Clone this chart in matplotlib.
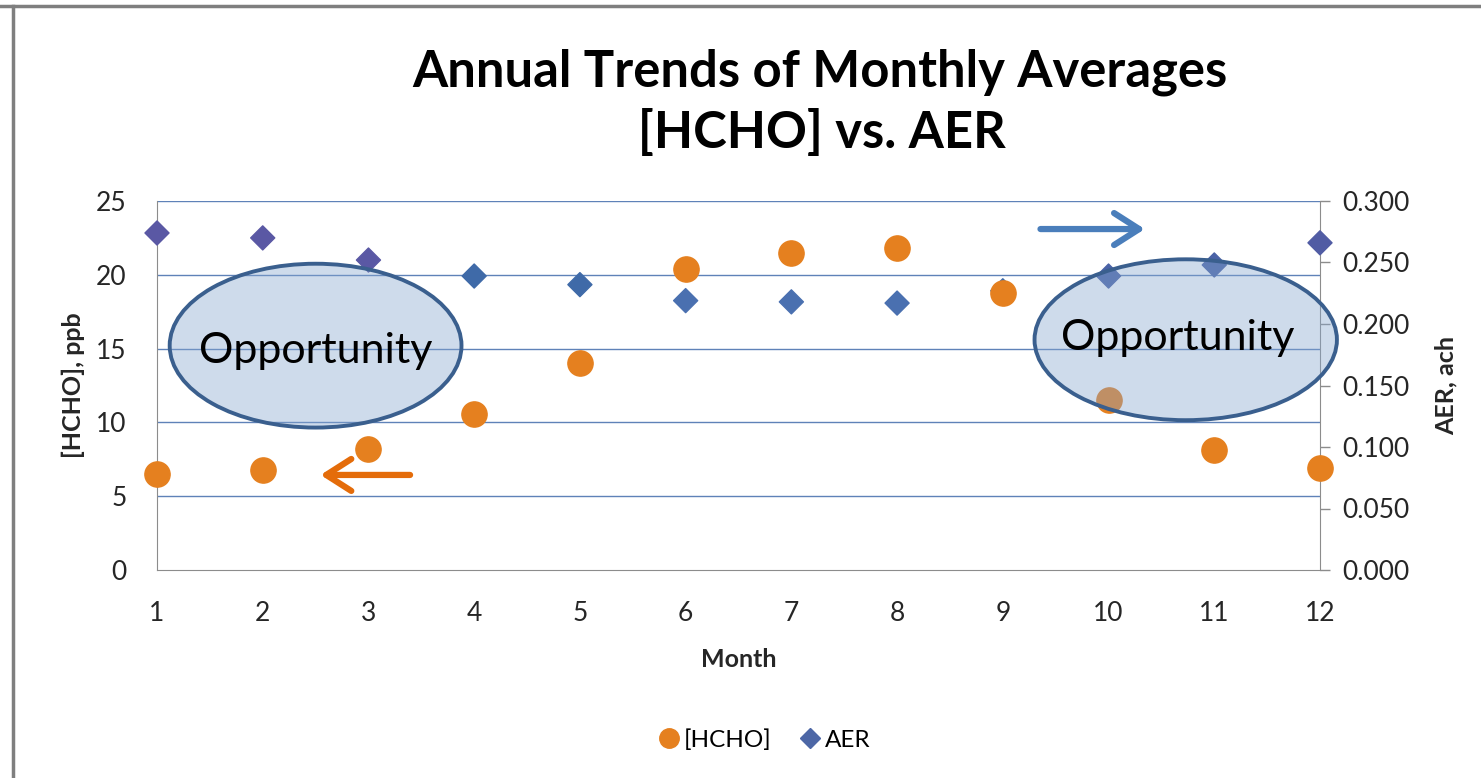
import matplotlib
matplotlib.use("Agg")
import matplotlib.pyplot as plt
from matplotlib.patches import Ellipse
from matplotlib.lines import Line2D

months = [1, 2, 3, 4, 5, 6, 7, 8, 9, 10, 11, 12]
hcho = [6.5, 6.8, 8.2, 10.6, 14.0, 20.4, 21.5, 21.8, 18.8, 11.5, 8.1, 6.9]
aer = [0.274, 0.270, 0.252, 0.239, 0.232, 0.219, 0.218, 0.217, 0.227, 0.239, 0.248, 0.266]
left_ticks = [0, 5, 10, 15, 20, 25]
right_ticks = [0.0, 0.05, 0.10, 0.15, 0.20, 0.25, 0.30]

FONT = "Lato"
plt.rcParams['font.family'] = [FONT, 'DejaVu Sans']

ORANGE = '#e5801f'
BLUE_D = '#4d67a6'
DIAMOND_COLORS = ['#5a58a4', '#5a58a4', '#5a58a4', '#3f6aa8', '#3f6aa8', '#4a70b0',
                  '#4a70b0', '#4a70b0', '#3f6aa8', '#4a62a6', '#4a62a6', '#515ca4']
GRID = '#5f82b8'
SPINE = '#8c8c8c'
TXT = '#262626'
ELL_FACE = (0.525, 0.65, 0.81, 0.4)
ELL_EDGE = '#3a5f8e'

fig = plt.figure(figsize=(14.81, 7.78), dpi=100)
ax = fig.add_axes([157/1481, 1-570/778, (1320-157)/1481, (570-201)/778])
ax2 = ax.twinx()

ax.set_xlim(1, 12)
ax.set_ylim(0, 25)
ax2.set_ylim(0, 0.30)

ax.set_yticks(left_ticks)
ax.set_xticks(months)
ax2.set_yticks(right_ticks)
ax2.set_yticklabels([f"{v:.3f}" for v in right_ticks])

for y in left_ticks[1:]:
    ax.axhline(y, color=GRID, lw=1.0, zorder=1)

for s in ['top']:
    ax.spines[s].set_visible(False)
    ax2.spines[s].set_visible(False)
ax.spines['left'].set_color(SPINE)
ax.spines['bottom'].set_color(SPINE)
ax.spines['right'].set_visible(False)
ax2.spines['left'].set_visible(False)
ax2.spines['bottom'].set_visible(False)
ax2.spines['right'].set_color(SPINE)

ax.tick_params(axis='y', length=0, pad=22, labelsize=19, labelcolor=TXT)
ax.tick_params(axis='x', length=0, pad=22, labelsize=19, labelcolor=TXT)
ax2.tick_params(axis='y', length=7, width=1, color=SPINE, pad=9, labelsize=19, labelcolor=TXT)

ax.set_xlabel("Month", fontsize=18, fontweight='bold', labelpad=16, color=TXT)
ax.set_ylabel("[HCHO], ppb", fontsize=18, fontweight='bold', labelpad=8, color=TXT)
ax2.set_ylabel("AER, ach", fontsize=18, fontweight='bold', labelpad=18, color=TXT)

# markers
ax2.scatter(months, aer, marker='D', s=150, color=DIAMOND_COLORS, zorder=3, clip_on=False)
ax2.scatter(months, [h * 0.3 / 25 for h in hcho], marker='o', s=330,
            color=ORANGE, zorder=4, clip_on=False)

# ellipses (semi-transparent, over the markers)
e1 = Ellipse((2.50, 15.2), 2.76, 11.1, transform=ax.transData, facecolor=ELL_FACE,
             edgecolor=ELL_EDGE, lw=2.8, zorder=5, clip_on=False)
e2 = Ellipse((10.73, 15.6), 2.86, 10.9, transform=ax.transData, facecolor=ELL_FACE,
             edgecolor=ELL_EDGE, lw=2.8, zorder=5, clip_on=False)
ax2.add_patch(e1)
ax2.add_patch(e2)
ax2.text(2.50, 14.85, "Opportunity", fontsize=31, ha='center', va='center',
         color='black', zorder=6, transform=ax.transData)
ax2.text(10.65, 15.75, "Opportunity", fontsize=31, ha='center', va='center',
         color='black', zorder=6, transform=ax.transData)

# arrows
ax2.annotate("", xy=(2.52, 6.44), xytext=(3.42, 6.44), xycoords=ax.transData, textcoords=ax.transData,
             arrowprops=dict(arrowstyle="->,head_length=1.8,head_width=1.15", color='#e46c0a', lw=4.5),
             zorder=7)
ax2.annotate("", xy=(10.37, 23.1), xytext=(9.33, 23.1), xycoords=ax.transData, textcoords=ax.transData,
             arrowprops=dict(arrowstyle="->,head_length=1.8,head_width=1.15", color='#4a7ebb', lw=4.5),
             zorder=7)

# title
fig.text(820/1481, 1-72/778, "Annual Trends of Monthly Averages", fontsize=36.5, fontweight='bold',
         ha='center', va='center', color='black')
fig.text(822/1481, 1-133/778, "[HCHO] vs. AER", fontsize=36.5, fontweight='bold',
         ha='center', va='center', color='black')

# legend
handles = [Line2D([], [], marker='o', ls='', color=ORANGE, markersize=14),
           Line2D([], [], marker='D', ls='', color=BLUE_D, markersize=10)]
fig.legend(handles, ["[HCHO]", "AER"], loc='center', bbox_to_anchor=(765/1481, 1-740/778),
           ncol=2, frameon=False, fontsize=17.5, handletextpad=0.2, columnspacing=1.2,
           handlelength=0.8)

# outer frame
fig.add_artist(Line2D([0, 1], [1-6/778, 1-6/778], transform=fig.transFigure, color='#7f7f7f', lw=2.5))
fig.add_artist(Line2D([13/1481, 13/1481], [0, 1-6/778], transform=fig.transFigure, color='#7f7f7f', lw=2.5))

fig.savefig("out.png", dpi=100)
